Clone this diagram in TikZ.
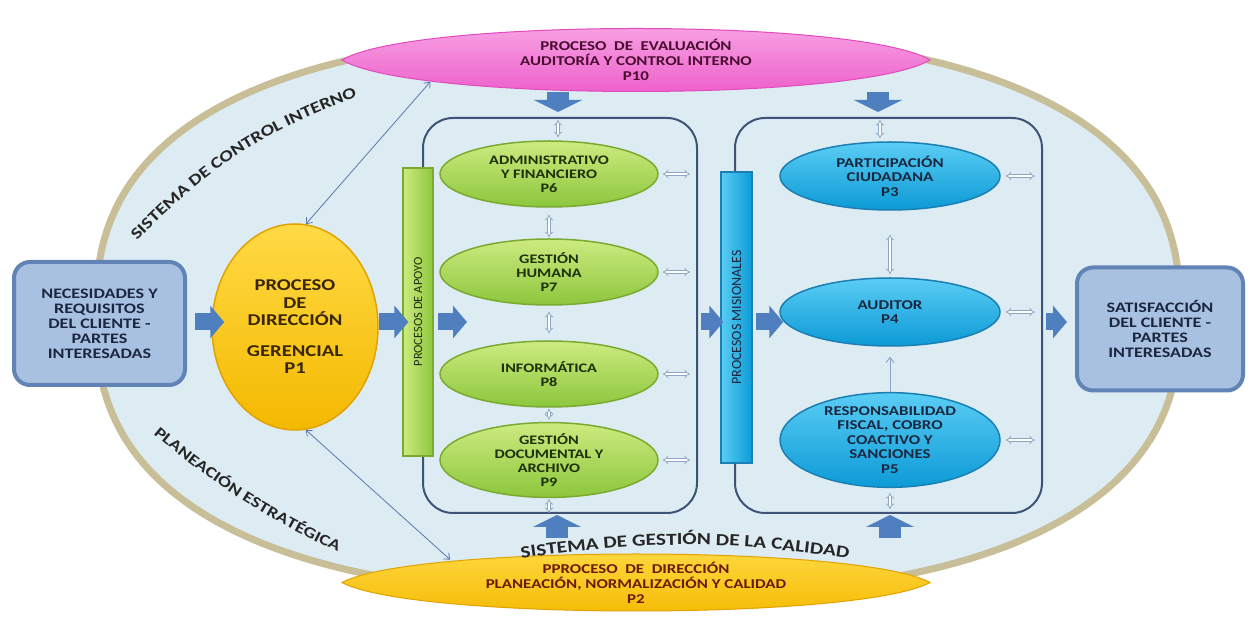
\documentclass[tikz,border=0pt]{standalone}
\usepackage{fontspec}
\setmainfont{Carlito}[FakeStretch=1.25]
\newfontfamily\barfont{Carlito}
\usetikzlibrary{shapes.geometric,arrows.meta,decorations.text}

\definecolor{ringtan}{HTML}{C8BE98}
\definecolor{fieldblue}{HTML}{DDEBF3}
\definecolor{boxfill}{HTML}{A9C1E1}
\definecolor{boxedge}{HTML}{6283B5}
\definecolor{arrowblue}{HTML}{4F7FBF}
\definecolor{linkblue}{HTML}{5878AE}
\definecolor{twowaygray}{HTML}{8EA6C6}
\definecolor{frameedge}{HTML}{3D5478}
\definecolor{pinklight}{HTML}{F9A8E6}
\definecolor{pinkdark}{HTML}{EC58C8}
\definecolor{pinkedge}{HTML}{E04CBC}
\definecolor{goldlight}{HTML}{FFDA45}
\definecolor{golddark}{HTML}{F4B900}
\definecolor{goldedge}{HTML}{E2A200}
\definecolor{greenlight}{HTML}{CDEB80}
\definecolor{greendark}{HTML}{8CC63C}
\definecolor{greenedge}{HTML}{7AAA30}
\definecolor{cyanlight}{HTML}{5ACDF4}
\definecolor{cyandark}{HTML}{0C9AD6}
\definecolor{cyanedge}{HTML}{1A7FB2}
\definecolor{navytext}{HTML}{1B2740}
\definecolor{greentext}{HTML}{1E3008}
\definecolor{browntext}{HTML}{3A2600}
\definecolor{maroontext}{HTML}{4A0C30}
\definecolor{rusttext}{HTML}{6A1A04}

\newcommand\setfs[2]{\fontsize{#1}{#2}\selectfont}

\begin{document}
\begin{tikzpicture}[x=1pt, y=1pt,
    every node/.style={align=center, inner sep=0pt},
    endbox/.style={rounded corners=16pt, draw=boxedge, line width=4pt, fill=boxfill,
        minimum width=171pt, minimum height=123pt, text=navytext, font=\bfseries\setfs{14.5}{15}},
    gerencia/.style={ellipse, draw=goldedge, line width=1.5pt, top color=goldlight, bottom color=golddark,
        minimum width=166pt, minimum height=206pt, text=browntext, font=\bfseries\setfs{16.5}{17.5}},
    procframe/.style={draw=frameedge, line width=2pt, rounded corners=30pt, minimum height=395pt},
    support/.style={ellipse, draw=greenedge, line width=1.5pt, top color=greenlight, bottom color=greendark,
        minimum width=218pt, minimum height=66pt, text=greentext, font=\bfseries\setfs{13}{14}},
    mission/.style={ellipse, draw=cyanedge, line width=1.5pt, top color=cyanlight, bottom color=cyandark,
        minimum width=220pt, minimum height=68pt, text=navytext, font=\bfseries\setfs{13.5}{14.5}},
    banner/.style={ellipse, minimum width=588pt, font=\bfseries\setfs{13.5}{15}},
    lens/.style={line width=1pt},
    sidebar/.style={line width=1.2pt},
    bartext/.style={font=\barfont\setfs{12.5}{13}},
    blockarrow/.style={arrowblue, line width=17pt, -{Triangle[length=14pt,width=32pt]}},
    droparrow/.style={arrowblue, line width=22pt, -{Triangle[length=12pt,width=48pt]}},
    linkarrow/.style={linkblue, line width=0.8pt, {Straight Barb[length=5pt,width=8pt]}-{Straight Barb[length=5pt,width=8pt]}},
    twoway/.style={draw=twowaygray, double=white, double distance=2.2pt, line width=0.7pt, {Implies}-{Implies}},
    oneway/.style={twowaygray, line width=1pt, -{Straight Barb[length=5pt,width=8pt]}},
    curvetext/.style={decorate, decoration={text along path, text align=center, text color=black!85}},
    ]

    \fill[white] (0,0) rectangle (1253,618);
    \useasboundingbox (0,0) rectangle (1253,618);

    % the field of the two systems
    \draw[ringtan, line width=7pt, fill=fieldblue] plot[domain=1:361, samples=181]
        ({638+542*sign(cos(\x))*abs(cos(\x))^0.8},{303+280*sign(sin(\x))*abs(sin(\x))^0.8}) -- cycle;

    \coordinate (midrow) at (0,296);

    % frames of the two process groups
    \node[procframe, minimum width=274pt] (apoyo) at (560,302.5) {};
    \node[procframe, minimum width=307pt] (misional) at (888.5,302.5) {};

    % inputs and outputs
    \node[endbox] (needs) at (99.5,294.5) {NECESIDADES Y\\REQUISITOS\\DEL CLIENTE -\\PARTES\\INTERESADAS};
    \node[endbox, minimum width=166pt] (satisf) at (1160,289) {SATISFACCIÓN\\DEL CLIENTE -\\PARTES\\INTERESADAS};

    \node[gerencia] (p1) at (295,291) {PROCESO\\DE\\DIRECCIÓN\\[13pt]GERENCIAL\\P1};

    % side bars
    \node[sidebar, draw=greenedge, left color=greenlight, right color=greendark,
        minimum width=30pt, minimum height=288pt] (apoyobar) at (418,306) {};
    \node[bartext, rotate=90, text=greentext] (apoyolabel) at (apoyobar) {PROCESOS DE APOYO};
    \node[sidebar, draw=cyanedge, left color=cyanlight, right color=cyandark,
        minimum width=31pt, minimum height=291pt] (misbar) at (736.5,300.5) {};
    \node[bartext, rotate=90, text=navytext, font=\barfont\setfs{14}{14}] (mislabel) at (misbar) {PROCESOS MISIONALES};

    % support processes
    \node[support] (p6) at (549,444) {ADMINISTRATIVO\\Y FINANCIERO\\P6};
    \node[support] (p7) at (549,346) {GESTIÓN\\HUMANA\\P7};
    \node[support] (p8) at (549,244) {INFORMÁTICA\\P8};
    \node[support] (p9) at (549,158) {GESTIÓN\\DOCUMENTAL Y\\ARCHIVO\\P9};

    % mission processes
    \node[mission] (p3) at (890,442) {PARTICIPACIÓN\\CIUDADANA\\P3};
    \node[mission] (p4) at (890,306) {AUDITOR\\P4};
    \node[mission, minimum height=80pt] (p5) at (890,178) {RESPONSABILIDAD\\FISCAL, COBRO\\COACTIVO Y\\SANCIONES\\P5};

    % evaluation and planning (pointed lenses)
    \path[lens, draw=pinkedge, top color=pinklight, bottom color=pinkdark]
        (342,558) .. controls +(70,42) and +(-70,42) .. (930,558)
        .. controls +(-70,-42) and +(70,-42) .. cycle;
    \node[banner, minimum height=60pt, text=maroontext] (p10) at (636,558)
        {PROCESO~~DE~~EVALUACIÓN\\AUDITORÍA Y CONTROL INTERNO\\P10};
    \path[lens, draw=goldedge, top color=goldlight, bottom color=golddark]
        (342,35.5) .. controls +(70,38) and +(-70,38) .. (930,35.5)
        .. controls +(-70,-38) and +(70,-38) .. cycle;
    \node[banner, minimum height=55pt, text=rusttext] (p2) at (636,35.5)
        {PPROCESO~~DE~~DIRECCIÓN\\PLANEACIÓN, NORMALIZACIÓN Y CALIDAD\\P2};

    % main flow
    \draw[blockarrow, shorten <=8pt, shorten >=-13pt] (needs.east |- midrow) -- (p1.west |- midrow);
    \draw[blockarrow, shorten >=-6pt] (p1.east |- midrow) -- (apoyobar.west |- midrow);
    \coordinate (apoyoin) at (467,296);
    \draw[blockarrow, shorten <=4pt] (apoyobar.east |- midrow) -- (apoyoin);
    \draw[blockarrow, shorten <=3pt, shorten >=-3pt] (apoyo.east |- midrow) -- (misbar.west |- midrow);
    \draw[blockarrow, shorten <=3pt, shorten >=-4pt] (misbar.east |- midrow) -- (p4.west |- midrow);
    \draw[blockarrow, shorten <=3pt, shorten >=8pt] (misional.east |- midrow) -- (satisf.west |- midrow);

    % from evaluation and planning into the groups
    \draw[droparrow, shorten <=2pt, shorten >=5pt] ([xshift=9pt]p6.north |- p10.south) -- ([xshift=9pt]p6.north |- apoyo.north);
    \draw[droparrow, shorten <=2pt, shorten >=5pt] ([xshift=-12pt]p3.north |- p10.south) -- ([xshift=-12pt]p3.north |- misional.north);
    \draw[droparrow, shorten <=15pt, shorten >=1pt] ([xshift=8pt]p9.south |- p2.north) -- ([xshift=8pt]p9.south |- apoyo.south);
    \draw[droparrow, shorten <=15pt, shorten >=1pt] (p5.south |- p2.north) -- (p5.south |- misional.south);

    \draw[linkarrow] (p1.84) -- (p10.186);
    \draw[linkarrow] (p1.276) -- (p2.173);

    % links inside the support group
    \draw[twoway, shorten <=3pt, shorten >=3pt] ([xshift=9pt]p6.north |- apoyo.north) -- ([xshift=9pt]p6.north);
    \draw[twoway, shorten <=7pt, shorten >=1pt] (p6.south) -- (p7.north);
    \draw[twoway, shorten <=6pt, shorten >=7pt] (p7.south) -- (p8.north);
    \draw[twoway, shorten <=1pt, shorten >=2pt] (p8.south) -- (p9.north);
    \draw[twoway, shorten <=1pt, shorten >=1pt] (p9.south) -- (p9.south |- apoyo.south);
    \foreach \p in {p6,p7,p8,p9}
        \draw[twoway, shorten <=4pt, shorten >=8pt] (\p.east) -- (\p.east -| apoyo.east);

    % links inside the mission group
    \draw[twoway, shorten <=3pt, shorten >=3pt] ([xshift=-10pt]p3.north |- misional.north) -- ([xshift=-10pt]p3.north);
    \draw[twoway, shorten <=24pt, shorten >=3pt] (p3.south) -- (p4.north);
    \draw[oneway, shorten >=10pt] (p5.north) -- (p4.south);
    \draw[twoway, shorten <=5pt, shorten >=5pt] (p5.south) -- (p5.south |- misional.south);
    \foreach \p in {p3,p4,p5}
        \draw[twoway, shorten <=5pt, shorten >=8pt] (\p.east) -- (\p.east -| misional.east);

    % names of the systems
    \path[curvetext, decoration={text={|\bfseries\setfs{16}{16}|SISTEMA DE CONTROL INTERNO}}]
        (122,361) to[bend left=14] (378,529);
    \path[curvetext, decoration={text={|\bfseries\setfs{15.5}{16}|PLANEACIÓN ESTRATÉGICA}}]
        (138,197) to[bend right=8] (356,57.5);
    \path[curvetext, decoration={text={|\bfseries\setfs{17}{17}|SISTEMA DE GESTIÓN DE LA CALIDAD}}]
        (498,56) to[bend left=9] (872,56);
\end{tikzpicture}
\end{document}
